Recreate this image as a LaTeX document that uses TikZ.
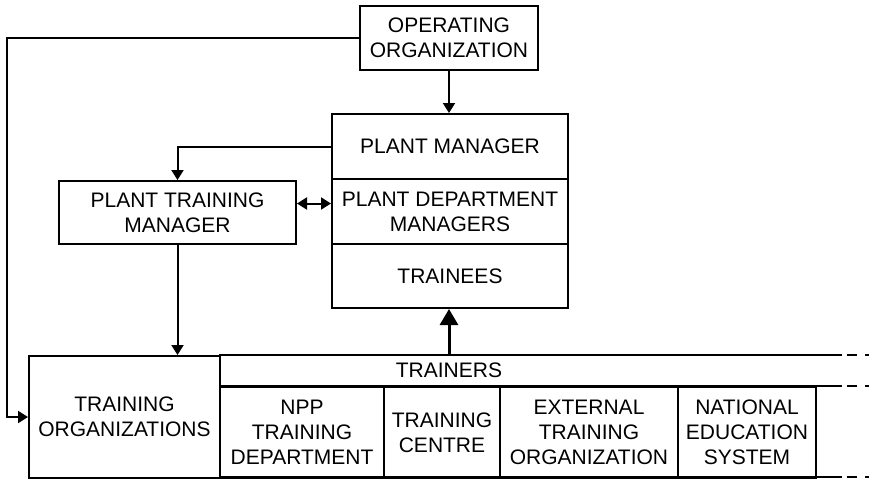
\documentclass[tikz,border=0pt]{standalone}
\usepackage{fontspec}
\setmainfont{Liberation Sans}
\usetikzlibrary{arrows.meta}

\tikzset{
  box/.style={draw, line width=1pt, anchor=north west, inner sep=0pt, align=center,
    font=\fontsize{10.5}{12.5}\selectfont},
  link/.style={line width=1pt, -{Triangle[length=5pt,width=6pt]}},
  biglink/.style={line width=1.5pt, -{Triangle[length=8pt,width=9pt]}},
}

\begin{document}
\begin{tikzpicture}[x=0.5pt,y=-0.5pt]
\useasboundingbox (0,0) rectangle (869,479);

% upper boxes
\node[box, minimum width=89pt, minimum height=32pt] (op) at (359,5) {OPERATING\\ORGANIZATION};
\node[box, minimum width=118pt, minimum height=32.5pt] (pm) at (331,113) {PLANT MANAGER};
\node[box, minimum width=118pt, minimum height=32.5pt] (pdm) at (331,178) {PLANT DEPARTMENT\\MANAGERS};
\node[box, minimum width=118pt, minimum height=32pt] (tre) at (331,243) {TRAINEES};
\node[box, minimum width=118.5pt, minimum height=31.5pt] (ptm) at (58,180) {PLANT TRAINING\\MANAGER};

% training organizations
\node[box, minimum width=95.5pt, minimum height=61pt] (tro) at (28,355) {TRAINING\\ORGANIZATIONS};
\node[box, minimum width=82pt, minimum height=45.5pt] (npp) at (219,386) {NPP\\TRAINING\\DEPARTMENT};
\node[box, minimum width=58pt, minimum height=45.5pt] (tc) at (383,386) {TRAINING\\CENTRE};
\node[box, minimum width=89pt, minimum height=45.5pt] (ext) at (499,386) {EXTERNAL\\TRAINING\\ORGANIZATION};
\node[box, minimum width=69pt, minimum height=45.5pt] (nat) at (677,386) {NATIONAL\\EDUCATION\\SYSTEM};
\node[box, draw=none, anchor=center, minimum height=15.5pt] (trs) at (449,370.5) {TRAINERS};

\foreach \y in {355,386,477} {
  \draw[line width=1pt] (219,\y) -- (842,\y);
  \draw[line width=1pt, dash pattern=on 5pt off 4pt] (847,\y) -- (869,\y);
}

% connectors
\coordinate (lc) at (7,0);
\draw[link] (op.west) -- (op.west -| lc) |- (tro.west);
\draw[link] (op.south) -- (op.south |- pm.north);
\draw[link] (pm.west) -| (ptm.north);
\draw[line width=1pt, {Triangle[length=5pt,width=6pt]}-{Triangle[length=5pt,width=6pt]}]
  ([yshift=4.5pt]ptm.east) -- ([yshift=4.5pt]ptm.east -| pdm.west);
\draw[link] (ptm.south) -- (ptm.south |- tro.north);
\draw[biglink] (trs.north) -- (trs.north |- tre.south);
\end{tikzpicture}
\end{document}
